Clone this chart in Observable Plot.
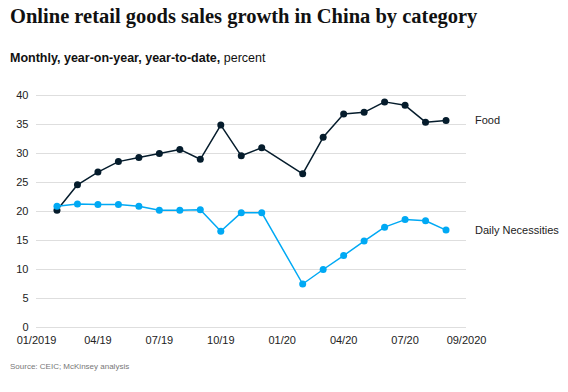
<!DOCTYPE html>
<html>
<head>
<meta charset="utf-8">
<script src="https://cdn.jsdelivr.net/npm/d3@7"></script>
<script src="https://cdn.jsdelivr.net/npm/@observablehq/plot@0.6"></script>
<style>
  html, body { margin: 0; padding: 0; background: #fff; }
  body { width: 568px; height: 392px; position: relative; overflow: hidden; font-family: "Liberation Sans", Arial, sans-serif; }
  #title { position: absolute; left: 10px; top: 5px; font-family: "Liberation Serif", "DejaVu Serif", serif; font-size: 20.5px; font-weight: bold; color: #111; white-space: nowrap; z-index: 2; }
  #subtitle { position: absolute; left: 10px; top: 51px; font-size: 12.5px; color: #111; white-space: nowrap; z-index: 2; }
  #chart { position: absolute; left: 0; top: 62px; z-index: 1; }
  #source { position: absolute; left: 10px; top: 362px; font-size: 8px; color: #777; white-space: nowrap; z-index: 2; }
</style>
</head>
<body>
<div id="title">Online retail goods sales growth in China by category</div>
<div id="subtitle"><b>Monthly, year-on-year, year-to-date,</b> percent</div>
<div id="chart"></div>
<div id="source">Source: CEIC; McKinsey analysis</div>
<script>
// Data (year-to-date, year-on-year growth, percent)
const months = ["2019-02","2019-03","2019-04","2019-05","2019-06","2019-07","2019-08","2019-09","2019-10","2019-11","2019-12",
                "2020-02","2020-03","2020-04","2020-05","2020-06","2020-07","2020-08","2020-09"];
const food  = [20.2, 24.6, 26.8, 28.6, 29.3, 30.0, 30.7, 29.0, 34.9, 29.6, 31.0,
               26.5, 32.8, 36.8, 37.1, 38.9, 38.3, 35.4, 35.7];
const daily = [20.9, 21.3, 21.2, 21.2, 20.9, 20.2, 20.2, 20.3, 16.6, 19.8, 19.8,
               7.5, 10.0, 12.4, 14.9, 17.3, 18.6, 18.4, 16.8];
const seriesNames = ["Food", "Daily Necessities"];
const tickMonths = ["2019-01","2019-04","2019-07","2019-10","2020-01","2020-04","2020-07","2020-10"];
const tickLabels = ["01/2019","04/19","07/19","10/19","01/20","04/20","07/20","09/2020"];
const yTicks = [0, 5, 10, 15, 20, 25, 30, 35, 40];

const foodColor = "#051c2c";
const dailyColor = "#00a9f4";

const idx = m => { const [y, mo] = m.split("-").map(Number); return (y - 2019) * 12 + (mo - 1); };
const rows = months.map((m, i) => ({x: idx(m), food: food[i], daily: daily[i]}));
const tickX = tickMonths.map(idx);

const chart = Plot.plot({
  width: 568,
  height: 300,
  marginLeft: 36,
  marginRight: 102,
  marginTop: 33,
  marginBottom: 35,
  style: {fontFamily: "'Liberation Sans', Arial, sans-serif", fontSize: "11px", color: "#222", background: "transparent"},
  x: {domain: [0, 21], axis: null},
  y: {domain: [0, 40], axis: null},
  marks: [
    Plot.gridY(yTicks, {stroke: "#dedede", strokeOpacity: 1, strokeWidth: 1}),
    Plot.axisY(yTicks, {tickSize: 0, tickPadding: 8, fontSize: 11, fill: "#222", label: null}),
    Plot.axisX(tickX, {tickSize: 0, tickPadding: 9, fontSize: 11, fill: "#222", label: null,
      tickFormat: (d) => tickLabels[tickX.indexOf(d)]}),
    Plot.line(rows, {x: "x", y: "food", stroke: foodColor, strokeWidth: 1.5}),
    Plot.dot(rows, {x: "x", y: "food", fill: foodColor, r: 3.5}),
    Plot.line(rows, {x: "x", y: "daily", stroke: dailyColor, strokeWidth: 1.5}),
    Plot.dot(rows, {x: "x", y: "daily", fill: dailyColor, r: 3.5}),
    Plot.text(rows, Plot.selectLast({x: "x", y: "food", text: () => seriesNames[0], dx: 29, textAnchor: "start", fontSize: 11, fill: "#222"})),
    Plot.text(rows, Plot.selectLast({x: "x", y: "daily", text: () => seriesNames[1], dx: 29, textAnchor: "start", fontSize: 11, fill: "#222"}))
  ]
});
document.getElementById("chart").appendChild(chart);
</script>
</body>
</html>
